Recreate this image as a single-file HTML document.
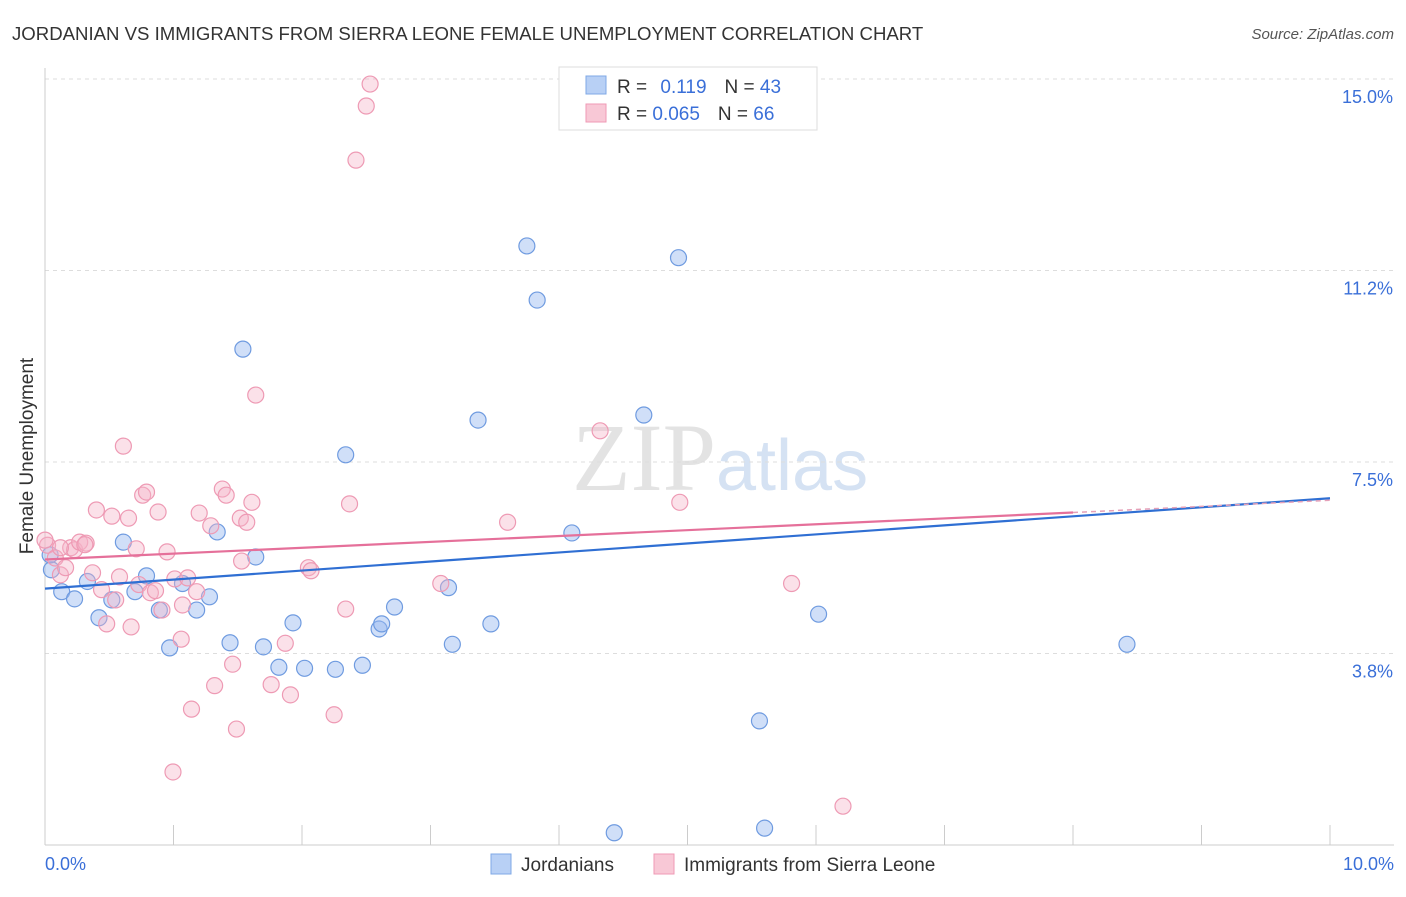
<!DOCTYPE html>
<html><head><meta charset="utf-8"><style>
body{margin:0;background:#fff;font-family:"Liberation Sans",sans-serif}
</style></head><body>
<svg width="1406" height="892" xmlns="http://www.w3.org/2000/svg">
<text x="12" y="40" font-size="18.6" fill="#333">JORDANIAN VS IMMIGRANTS FROM SIERRA LEONE FEMALE UNEMPLOYMENT CORRELATION CHART</text>
<text x="1394" y="39" font-size="15" fill="#555" text-anchor="end" font-style="italic">Source: ZipAtlas.com</text>
<text x="716" y="490" font-size="96" fill="#e3e3e3" text-anchor="end" font-family="Liberation Serif">ZIP</text>
<text x="716" y="490" font-size="72" fill="#d5e2f3">atlas</text>
<g id="grid"></g>
<line x1="45" y1="68" x2="45" y2="845" stroke="#ccc"/>
<line x1="45" y1="845" x2="1394" y2="845" stroke="#ccc"/>
<text x="33" y="456" font-size="19" fill="#333" text-anchor="middle" transform="rotate(-90 33 456)">Female Unemployment</text>
<text x="45" y="870" font-size="18" fill="#3a6fd8">0.0%</text>
<text x="1394" y="870" font-size="18" fill="#3a6fd8" text-anchor="end">10.0%</text>
<g id="marks"></g>
<g>
<rect x="559" y="67" width="258" height="63" fill="#fff" stroke="#ddd"/>
<rect x="586" y="76" width="20" height="18" fill="#b8d0f5" stroke="#7fa8e6"/>
<rect x="586" y="104" width="20" height="18" fill="#f8c8d6" stroke="#ef9ab5"/>
<text x="617" y="93" font-size="19" fill="#333">R = <tspan fill="#3a6fd8" dx="8">0.119</tspan><tspan dx="18" fill="#333">N = </tspan><tspan fill="#3a6fd8">43</tspan></text>
<text x="617" y="120" font-size="19" fill="#333">R = <tspan fill="#3a6fd8">0.065</tspan><tspan dx="18" fill="#333">N = </tspan><tspan fill="#3a6fd8">66</tspan></text>
</g>
<g>
<rect x="491" y="854" width="20" height="20" fill="#b8d0f5" stroke="#7fa8e6"/>
<text x="521" y="871" font-size="19" fill="#333">Jordanians</text>
<rect x="654" y="854" width="20" height="20" fill="#f8c8d6" stroke="#ef9ab5"/>
<text x="684" y="871" font-size="19" fill="#333">Immigrants from Sierra Leone</text>
</g>
</svg>
<script>
const yTicks=[3.75,7.5,11.25,15];
const yTickLabels=["3.8%","7.5%","11.2%","15.0%"];
const xTicks=[0,1,2,3,4,5,6,7,8,9,10];
const blueX=[0.05,0.13,0.23,0.33,0.42,0.52,0.61,0.70,0.79,0.89,0.97,1.07,1.18,1.28,1.34,1.44,1.54,1.64,1.70,1.82,1.93,2.02,2.26,2.34,2.47,2.60,2.62,2.72,3.14,3.17,3.37,3.47,3.75,3.83,4.10,4.43,4.66,4.93,5.56,5.60,6.02,8.42,0.04];
const blueY=[5.39,4.96,4.82,5.16,4.45,4.80,5.93,4.96,5.27,4.60,3.86,5.12,4.60,4.86,6.13,3.96,9.71,5.64,3.88,3.48,4.35,3.46,3.44,7.64,3.52,4.23,4.33,4.66,5.04,3.93,8.32,4.33,11.73,10.67,6.11,0.24,8.42,11.50,2.43,0.33,4.52,3.93,5.68];
const pinkX=[0.02,0.08,0.12,0.16,0.20,0.23,0.27,0.32,0.37,0.40,0.44,0.48,0.52,0.55,0.58,0.61,0.65,0.67,0.71,0.73,0.76,0.79,0.82,0.86,0.88,0.91,0.95,0.996,1.01,1.06,1.07,1.11,1.14,1.18,1.20,1.29,1.32,1.38,1.41,1.46,1.49,1.52,1.53,1.57,1.61,1.64,1.76,1.87,1.91,2.05,2.07,2.25,2.34,2.37,2.42,2.50,2.53,3.08,3.60,4.32,4.94,5.81,6.21,0.12,0.31,0];
const pinkY=[5.87,5.62,5.29,5.43,5.82,5.78,5.93,5.91,5.33,6.56,5.00,4.33,6.44,4.80,5.25,7.81,6.40,4.27,5.80,5.10,6.85,6.91,4.94,4.98,6.52,4.60,5.74,1.43,5.21,4.03,4.70,5.23,2.66,4.96,6.50,6.25,3.12,6.97,6.85,3.54,2.27,6.40,5.56,6.32,6.71,8.81,3.14,3.95,2.94,5.43,5.37,2.55,4.62,6.68,13.41,14.47,14.90,5.12,6.32,8.11,6.71,5.12,0.76,5.82,5.88,5.97];
const blueTrend=[5.02,6.79];
const pinkTrend=[5.59,6.51,6.75];
const X=v=>45+v*128.5, Y=v=>845-v*51.07;
const NS="http://www.w3.org/2000/svg";
const grid=document.getElementById('grid'), marks=document.getElementById('marks');
function mk(tag,at,parent){const e=document.createElementNS(NS,tag);for(const k in at)e.setAttribute(k,at[k]);parent.appendChild(e);return e;}
yTicks.forEach((t,i)=>{
 const l=mk('line',{x1:45,x2:1394,y1:Y(t),y2:Y(t),stroke:'#ddd','stroke-dasharray':'4,4'},grid);
 
 
 const tx=mk('text',{x:1393,y:Y(t)+24,'font-size':18,fill:'#3a6fd8','text-anchor':'end'},grid);
 tx.textContent=yTickLabels[i];
 
 
});
xTicks.forEach(t=>{
 const l=mk('line',{x1:X(t),x2:X(t),y1:825,y2:845,stroke:'#ccc'},grid);
 
 
});
blueX.forEach((v,i)=>{
 const c=mk('circle',{cx:X(v),cy:Y(blueY[i]),r:8,fill:'rgba(150,185,240,0.45)',stroke:'#6f9be0','stroke-width':1.2},marks);
 
 
});
pinkX.forEach((v,i)=>{
 const c=mk('circle',{cx:X(v),cy:Y(pinkY[i]),r:8,fill:'rgba(246,180,200,0.4)',stroke:'#ee9ab4','stroke-width':1.2},marks);
 
 
});
const bl=mk('line',{x1:X(0),y1:Y(blueTrend[0]),x2:X(10),y2:Y(blueTrend[1]),stroke:'#2f6fd3','stroke-width':2.2},marks);


const pl=mk('line',{x1:X(0),y1:Y(pinkTrend[0]),x2:X(8),y2:Y(pinkTrend[1]),stroke:'#e5709a','stroke-width':2.2},marks);


const pd=mk('line',{x1:X(8),y1:Y(pinkTrend[1]),x2:X(10),y2:Y(pinkTrend[2]),stroke:'#e5a0b8','stroke-width':1.5,'stroke-dasharray':'5,4'},marks);


</script>
</body></html>
